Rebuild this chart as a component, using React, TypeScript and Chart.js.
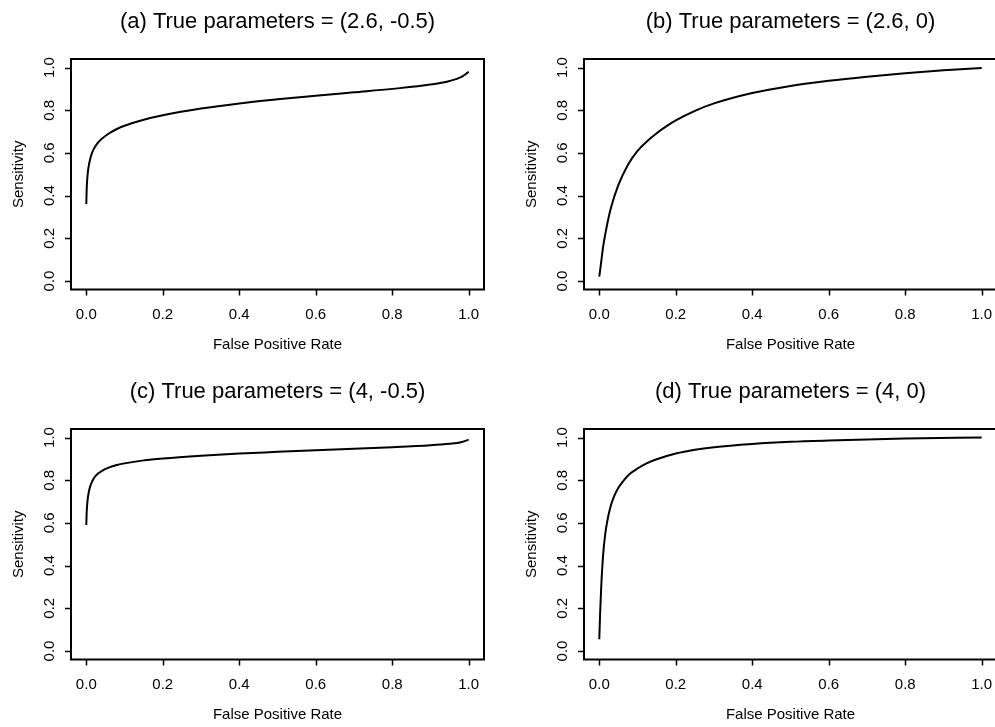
import React, { useEffect, useRef } from "react";
import { Chart, registerables } from "chart.js";
Chart.register(...registerables);

const FONT = '"Liberation Sans", Arial, Helvetica, sans-serif';

const tickValues = [0, 0.2, 0.4, 0.6, 0.8, 1.0];
const tickLabels = ["0.0", "0.2", "0.4", "0.6", "0.8", "1.0"];
const xAxisTitle = "False Positive Rate";
const yAxisTitle = "Sensitivity";

const panelTitles = [
  "(a) True parameters = (2.6, -0.5)",
  "(b) True parameters = (2.6, 0)",
  "(c) True parameters = (4, -0.5)",
  "(d) True parameters = (4, 0)",
];

// (a)
const fprA = [0, 0.001, 0.003, 0.006, 0.01, 0.015, 0.02, 0.03, 0.04, 0.06, 0.08, 0.1, 0.15, 0.2, 0.3, 0.4, 0.5, 0.6, 0.7, 0.8, 0.9, 0.95, 0.98, 1.0];
const sensA = [0.36, 0.43, 0.49, 0.535, 0.57, 0.6, 0.62, 0.647, 0.665, 0.692, 0.712, 0.727, 0.755, 0.776, 0.808, 0.832, 0.851, 0.868, 0.884, 0.9, 0.92, 0.937, 0.955, 0.98];
// (b)
const fprB = [0, 0.005, 0.01, 0.02, 0.03, 0.05, 0.075, 0.1, 0.125, 0.15, 0.175, 0.2, 0.25, 0.3, 0.4, 0.5, 0.6, 0.7, 0.8, 0.9, 1.0];
const sensB = [0.02, 0.09, 0.16, 0.26, 0.34, 0.45, 0.545, 0.61, 0.655, 0.692, 0.724, 0.752, 0.797, 0.832, 0.881, 0.914, 0.938, 0.957, 0.973, 0.987, 0.998];
// (c)
const fprC = [0, 0.001, 0.003, 0.006, 0.01, 0.015, 0.02, 0.03, 0.04, 0.06, 0.08, 0.1, 0.15, 0.2, 0.3, 0.4, 0.5, 0.6, 0.7, 0.8, 0.9, 0.95, 0.98, 1.0];
const sensC = [0.59, 0.65, 0.7, 0.74, 0.77, 0.793, 0.81, 0.83, 0.843, 0.86, 0.871, 0.879, 0.893, 0.902, 0.915, 0.925, 0.933, 0.941, 0.948, 0.955, 0.964, 0.971, 0.978, 0.99];
// (d)
const fprD = [0, 0.002, 0.005, 0.01, 0.015, 0.02, 0.03, 0.04, 0.05, 0.06, 0.08, 0.1, 0.125, 0.15, 0.2, 0.25, 0.3, 0.4, 0.5, 0.6, 0.8, 1.0];
const sensD = [0.055, 0.17, 0.3, 0.45, 0.54, 0.6, 0.68, 0.73, 0.765, 0.79, 0.83, 0.855, 0.88, 0.898, 0.925, 0.943, 0.955, 0.97, 0.98, 0.986, 0.995, 1.0];

const panelFpr = [fprA, fprB, fprC, fprD];
const panelSens = [sensA, sensB, sensC, sensD];

const PANEL_W = 513;
const PANEL_H = 368;

const framePlugin = {
  id: "rframe",
  afterDraw(chart: any) {
    const { ctx, chartArea } = chart;
    const { left, right, top, bottom } = chartArea;
    const xs = chart.scales.x;
    const ys = chart.scales.y;
    const title = chart.options.plugins.rframe.title;
    ctx.save();
    ctx.strokeStyle = "#000";
    ctx.fillStyle = "#000";
    ctx.lineWidth = 2;
    ctx.strokeRect(left, top, right - left, bottom - top);
    ctx.lineWidth = 1.5;
    const tl = 6;
    ctx.beginPath();
    tickValues.forEach((v) => {
      const px = Math.round(xs.getPixelForValue(v)) + 0.5;
      ctx.moveTo(px, bottom);
      ctx.lineTo(px, bottom + tl);
      const py = Math.round(ys.getPixelForValue(v)) + 0.5;
      ctx.moveTo(left, py);
      ctx.lineTo(left - tl, py);
    });
    ctx.stroke();
    ctx.font = `15px ${FONT}`;
    ctx.textAlign = "center";
    ctx.textBaseline = "middle";
    tickValues.forEach((v, i) => {
      ctx.fillText(tickLabels[i], xs.getPixelForValue(v), bottom + 25);
    });
    tickValues.forEach((v, i) => {
      ctx.save();
      ctx.translate(left - 21, ys.getPixelForValue(v));
      ctx.rotate(-Math.PI / 2);
      ctx.fillText(tickLabels[i], 0, 0);
      ctx.restore();
    });
    ctx.fillText(xAxisTitle, (left + right) / 2, bottom + 55);
    ctx.save();
    ctx.translate(left - 52, (top + bottom) / 2);
    ctx.rotate(-Math.PI / 2);
    ctx.fillText(yAxisTitle, 0, 0);
    ctx.restore();
    ctx.font = `22px ${FONT}`;
    ctx.fillText(title, (left + right) / 2, 22);
    ctx.restore();
  },
};

function Panel({ idx }: { idx: number }) {
  const ref = useRef<HTMLCanvasElement>(null);
  useEffect(() => {
    if (!ref.current) return;
    const data = panelFpr[idx].map((x, i) => ({ x, y: panelSens[idx][i] }));
    const chart = new Chart(ref.current, {
      type: "line",
      data: {
        datasets: [
          {
            data,
            borderColor: "#000",
            borderWidth: 2,
            pointRadius: 0,
            fill: false,
            cubicInterpolationMode: "monotone",
          },
        ],
      },
      options: {
        responsive: false,
        animation: false,
        devicePixelRatio: 1,
        layout: { padding: { left: 71, top: 59, right: PANEL_W - 484, bottom: PANEL_H - 289.5 } },
        plugins: {
          legend: { display: false },
          tooltip: { enabled: false },
          title: { display: false },
          rframe: { title: panelTitles[idx] },
        } as any,
        scales: {
          x: { type: "linear", min: -0.04, max: 1.04, display: false },
          y: { type: "linear", min: -0.04, max: 1.04, display: false },
        },
      },
      plugins: [framePlugin],
    } as any);
    return () => chart.destroy();
  }, [idx]);
  return <canvas ref={ref} width={PANEL_W} height={PANEL_H} style={{ display: "block" }} />;
}

export default function App() {
  const pos = [
    { left: 0, top: 0 },
    { left: 513, top: 0 },
    { left: 0, top: 370 },
    { left: 513, top: 370 },
  ];
  return (
    <div style={{ position: "fixed", left: 0, top: 0, width: 995, height: 727, overflow: "hidden", background: "#fff" }}>
      {pos.map((p, i) => (
        <div key={i} style={{ position: "absolute", left: p.left, top: p.top, width: PANEL_W, height: PANEL_H }}>
          <Panel idx={i} />
        </div>
      ))}
    </div>
  );
}
